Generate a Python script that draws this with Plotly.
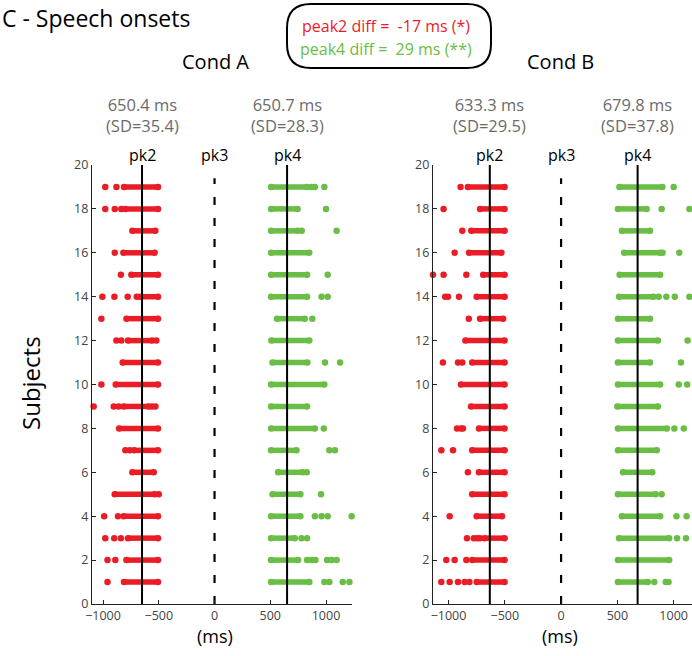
import plotly.graph_objects as go

W, H = 692, 656
FONT = "Open Sans"
RED = "#EA1D27"
GREEN = "#6ABD45"
GRAY = "#6b6b6b"

rows = list(range(1, 20))

# ---- Cond A, peak 2 (red) : dense cluster [lo, hi] + isolated trials ----
A_pk2_lo = [-812, -790, -776, -815, -895, -737, -722, -856, -815, -886,
            -824, -776, -790, -668, -746, -818, -737, -800, -812]
A_pk2_hi = [-507, -507, -507, -507, -537, -545, -507, -507, -590, -507,
            -507, -560, -507, -507, -507, -537, -531, -507, -507]
A_pk2_out = [[-960], [-960, -890], [-980, -900, -840], [-990, -866], [-500], [],
             [-800, -760], [], [-1084, -904, -860, -560, -530], [-1015], [],
             [-1102, -880, -836, -522], [-1015], [-1006, -898, -779, -698],
             [-840], [-895], [], [-980, -895, -836], [-980, -880]]

# ---- Cond A, peak 4 (green) ----
A_pk4_lo = [507, 507, 507, 507, 520, 570, 507, 507, 507, 507,
            520, 510, 560, 507, 507, 507, 507, 507, 507]
A_pk4_hi = [850, 750, 720, 770, 770, 790, 735, 900, 830, 985,
            833, 850, 810, 830, 830, 850, 745, 745, 830]
A_pk4_out = [[985, 1030, 1150, 1210], [830, 870, 905, 1010, 1050, 1095], [780, 830],
             [900, 960, 1015, 1230], [955], [827], [1030, 1080], [980], [], [],
             [991, 1126], [], [877], [960, 1015], [1015], [], [782, 1095], [1000],
             [870, 900, 985]]

# ---- Cond B, peak 2 (red) ----
B_pk2_lo = [-750, -790, -680, -750, -790, -730, -790, -730, -800, -890,
            -790, -850, -720, -750, -692, -818, -798, -720, -828]
B_pk2_hi = [-502, -502, -502, -525, -502, -502, -502, -502, -502, -502,
            -502, -502, -515, -502, -502, -530, -502, -502, -502]
B_pk2_out = [[-1064, -990, -916, -857, -815], [-1020, -946, -842], [-836, -775, -745, -720],
             [-990], [], [-828], [-1064, -960], [-925, -890, -872], [], [],
             [-1050, -916, -878], [], [-820], [-1030, -1005, -907],
             [-1138, -1044, -842], [-946], [-878], [-1044], [-893]]

# ---- Cond B, peak 4 (green) ----
B_pk4_lo = [505, 505, 515, 540, 505, 550, 505, 505, 500, 505,
            505, 505, 505, 515, 520, 560, 540, 505, 518]
B_pk4_hi = [770, 960, 960, 880, 840, 810, 850, 940, 860, 880,
            790, 860, 790, 820, 880, 880, 790, 760, 900]
B_pk4_out = [[828, 930, 955], [], [1030, 1110], [1025, 1115], [893], [], [],
             [1006, 1090], [], [1045, 1120], [1065], [1124], [],
             [867, 935, 1010, 1140], [], [902, 1050], [], [893, 1140], [1000]]

# means (ms) and SD
A_means = [-650.4, 650.7]
B_means = [-633.3, 679.8]
mean_labels_A = ["650.4 ms<br>(SD=35.4)", "650.7 ms<br>(SD=28.3)"]
mean_labels_B = ["633.3 ms<br>(SD=29.5)", "679.8 ms<br>(SD=37.8)"]
x_ticks = [-1000, -500, 0, 500, 1000]
y_ticks = list(range(0, 21, 2))

fig = go.Figure()


def add_cloud(xa, ya, lo, hi, outl, color):
    xs, ys = [], []
    for r, a, b in zip(rows, lo, hi):
        xs += [a, b, None]
        ys += [r, r, None]
    fig.add_trace(go.Scatter(x=xs, y=ys, xaxis=xa, yaxis=ya, mode="lines+markers",
                             line=dict(color=color, width=5.5),
                             marker=dict(color=color, size=6.5),
                             hoverinfo="skip", showlegend=False, cliponaxis=False))
    ox, oy = [], []
    for r, pts in zip(rows, outl):
        ox += pts
        oy += [r] * len(pts)
    fig.add_trace(go.Scatter(x=ox, y=oy, xaxis=xa, yaxis=ya, mode="markers",
                             marker=dict(color=color, size=6.5),
                             hoverinfo="skip", showlegend=False, cliponaxis=False))


def add_lines(xa, ya, means):
    for m in means:
        fig.add_trace(go.Scatter(x=[m, m], y=[0, 20.25], xaxis=xa, yaxis=ya, mode="lines",
                                 line=dict(color="black", width=2),
                                 hoverinfo="skip", showlegend=False, cliponaxis=False))
    fig.add_trace(go.Scatter(x=[0, 0], y=[0, 19.4], xaxis=xa, yaxis=ya, mode="lines",
                             line=dict(color="black", width=2.2, dash="8px,13px"),
                             hoverinfo="skip", showlegend=False))


add_cloud("x", "y", A_pk2_lo, A_pk2_hi, A_pk2_out, RED)
add_cloud("x", "y", A_pk4_lo, A_pk4_hi, A_pk4_out, GREEN)
add_cloud("x2", "y2", B_pk2_lo, B_pk2_hi, B_pk2_out, RED)
add_cloud("x2", "y2", B_pk4_lo, B_pk4_hi, B_pk4_out, GREEN)
add_lines("x", "y", A_means)
add_lines("x2", "y2", B_means)

ydom = [1 - 604 / H, 1 - 165 / H]
axis_common = dict(showgrid=False, zeroline=False, showline=True, linecolor="#222",
                   linewidth=1.2, ticks="inside", ticklen=4, tickcolor="#222",
                   automargin=False,
                   tickfont=dict(family=FONT, size=12.5, color="#444"))
fig.update_layout(
    width=W, height=H, autosize=False,
    margin=dict(l=0, r=0, t=0, b=0, pad=0, autoexpand=False),
    paper_bgcolor="white", plot_bgcolor="white",
    xaxis=dict(domain=[92 / W, 352 / W], range=[-1099, 1233], tickvals=x_ticks,
               anchor="y", **axis_common),
    yaxis=dict(domain=ydom, range=[0, 20], tickvals=y_ticks, anchor="x", **axis_common),
    xaxis2=dict(domain=[433 / W, 1.0], range=[-1138, 1163], tickvals=x_ticks,
                anchor="y2", **axis_common),
    yaxis2=dict(domain=ydom, range=[0, 20], tickvals=y_ticks, anchor="x2", **axis_common),
)


def P(px, py):
    return px / W, 1 - py / H


ann = []


def txt(px, py, text, size, color="black", **kw):
    x, y = P(px, py)
    d = dict(x=x, y=y, xref="paper", yref="paper", text=text, showarrow=False,
             xanchor="center", yanchor="middle",
             font=dict(family=FONT, size=size, color=color))
    d.update(kw)
    ann.append(d)


txt(96, 18, "C - Speech onsets", 23)
txt(215, 62, "Cond A", 20)
txt(560, 62, "Cond B", 20)
txt(386, 26, "peak2 diff =  -17 ms (*)", 16, RED)
txt(386, 49, "peak4 diff =  29 ms (**)", 16, GREEN)
txt(30, 383, "Subjects", 24, textangle=-90)
txt(215, 636, "(ms)", 18)
txt(560, 636, "(ms)", 18)

for xr, means, labs in (("x", A_means, mean_labels_A), ("x2", B_means, mean_labels_B)):
    for m, lab in zip(means, labs):
        ann.append(dict(x=m, y=1 - 115 / H, xref=xr, yref="paper", text=lab,
                        showarrow=False, xanchor="center", yanchor="middle",
                        font=dict(family=FONT, size=16.5, color=GRAY)))
    for xv, lab in ((means[0], "pk2"), (0, "pk3"), (means[1], "pk4")):
        ann.append(dict(x=xv, y=1 - 155 / H, xref=xr, yref="paper", text=lab,
                        showarrow=False, xanchor="center", yanchor="middle",
                        bgcolor="rgba(0,0,0,0)",
                        font=dict(family=FONT, size=16, color="black")))

fig.update_layout(annotations=ann)

# rounded box around the difference legend
x0, x1, y0, y1, r = 287, 491, 4, 68, 24


def path_rr(x0, y0, x1, y1, r):
    def p(px, py):
        a, b = P(px, py)
        return f"{a:.5f},{b:.5f}"
    s = f"M {p(x0 + r, y0)} L {p(x1 - r, y0)} Q {p(x1, y0)} {p(x1, y0 + r)} "
    s += f"L {p(x1, y1 - r)} Q {p(x1, y1)} {p(x1 - r, y1)} "
    s += f"L {p(x0 + r, y1)} Q {p(x0, y1)} {p(x0, y1 - r)} "
    s += f"L {p(x0, y0 + r)} Q {p(x0, y0)} {p(x0 + r, y0)} Z"
    return s


fig.add_shape(type="path", xref="paper", yref="paper", path=path_rr(x0, y0, x1, y1, r),
              line=dict(color="black", width=2))

post = (
    "document.documentElement.style.margin='0';"
    "document.documentElement.style.padding='0';"
    "document.body.style.margin='0';document.body.style.padding='0';"
    "document.body.style.overflow='hidden';"
    "var gd=document.getElementById('{plot_id}');"
    "gd.style.position='absolute';gd.style.left='0px';gd.style.top='0px';"
)
fig.write_html("out.html", post_script=post, config={"displayModeBar": False})
